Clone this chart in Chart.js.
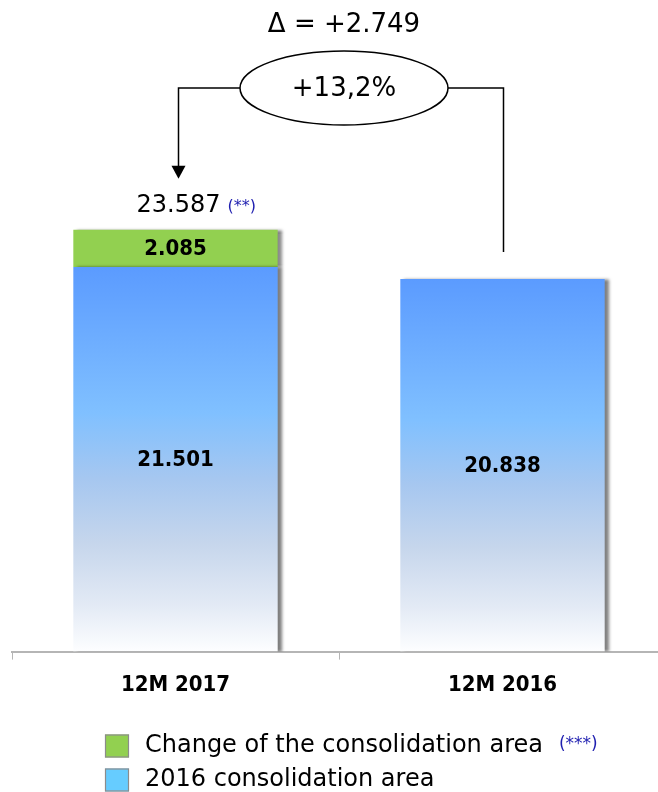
<!DOCTYPE html>
<html>
<head>
<meta charset="utf-8">
<script src="https://cdn.jsdelivr.net/npm/chart.js@4.4.1/dist/chart.umd.min.js"></script>
<style>
  html, body { margin: 0; padding: 0; background: #ffffff; overflow: hidden; }
  #wrap { width: 658px; height: 792px; overflow: hidden; position: relative; }
  canvas { display: block; }
</style>
</head>
<body>
<div id="wrap"><canvas id="c" width="670" height="792" style="width:670px;height:792px"></canvas></div>
<script>
// ---- data ----
const categories = ['12M 2017', '12M 2016'];
const changeArea = [2085, null];
const area2016 = [21501, 20838];
const changeLabels = ['2.085', ''];
const area2016Labels = ['21.501', '20.838'];
const totalValues = [23587, null];
const totalLabels = ['23.587', ''];
const totalNotes = ['(**)', ''];
const seriesNames = ['Change of the consolidation area', '2016 consolidation area'];
const seriesNotes = ['(***)', ''];
const deltaText = 'Δ = +2.749';
const pctText = '+13,2%';

// ---- styles ----
const GREEN = '#92d050';
const LEGEND_BLUE = '#66ccff';
const NOTE_BLUE = '#1f1fb0';
const REG = "'DejaVu Sans', Verdana, sans-serif";
const BOLD = "'DejaVu Sans Condensed', 'DejaVu Sans', Verdana, sans-serif";

function blueGradient(context) {
  const chart = context.chart;
  const area = chart.chartArea;
  if (!area || !chart.scales.y) return '#7fbfff';
  const v = context.raw;
  if (v == null) return '#7fbfff';
  const y = chart.scales.y;
  const top = y.getPixelForValue(v);
  const bottom = y.getPixelForValue(0);
  const g = chart.ctx.createLinearGradient(0, top, 0, bottom);
  g.addColorStop(0, '#5b9bff');
  g.addColorStop(0.38, '#80c0ff');
  g.addColorStop(0.55, '#a6c7f0');
  g.addColorStop(0.72, '#c6d6ec');
  g.addColorStop(0.88, '#e3eaf5');
  g.addColorStop(1, '#fdfeff');
  return g;
}

const shadowPlugin = {
  id: 'barShadow',
  beforeDatasetDraw(chart) {
    const ctx = chart.ctx;
    ctx.save();
    ctx.shadowColor = 'rgba(0,0,0,0.5)';
    ctx.shadowOffsetX = 4;
    ctx.shadowOffsetY = 0;
    ctx.shadowBlur = 3;
  },
  afterDatasetDraw(chart) {
    chart.ctx.restore();
  }
};

const annotationPlugin = {
  id: 'annotations',
  afterDatasetsDraw(chart) {
    const ctx = chart.ctx;
    const x = chart.scales.x, y = chart.scales.y;

    // bar value labels
    const labelSets = [area2016Labels, changeLabels];
    chart.data.datasets.forEach((ds, di) => {
      const meta = chart.getDatasetMeta(di);
      meta.data.forEach((bar, i) => {
        const txt = labelSets[di][i];
        if (!txt) return;
        ctx.save();
        ctx.font = 'bold 22px ' + BOLD;
        ctx.fillStyle = '#000';
        ctx.textAlign = 'center';
        ctx.textBaseline = 'middle';
        ctx.fillText(txt, bar.x, (bar.y + bar.base) / 2 + 1);
        ctx.restore();
      });
    });

    // total label above first bar
    const x0 = x.getPixelForValue(0);
    const x1 = x.getPixelForValue(1);
    const topTotal = y.getPixelForValue(totalValues[0]);
    const top2 = y.getPixelForValue(area2016[1]);
    ctx.save();
    ctx.font = '24px ' + REG;
    ctx.fillStyle = '#000';
    ctx.textAlign = 'center';
    ctx.textBaseline = 'middle';
    const lx = x0 + 3;
    const ly = topTotal - 24;
    ctx.fillText(totalLabels[0], lx, ly);
    const w = ctx.measureText(totalLabels[0]).width;
    ctx.font = '16px ' + REG;
    ctx.fillStyle = NOTE_BLUE;
    ctx.textAlign = 'left';
    ctx.fillText(totalNotes[0], lx + w / 2 + 7, ly + 1);
    ctx.restore();

    // connector lines and ellipse
    const ex = (x0 + x1) / 2 + 5;
    const ey = 88;
    const rx = 104, ry = 37;
    ctx.save();
    ctx.strokeStyle = '#000';
    ctx.lineWidth = 1.5;
    const leftX = x0 + 3;
    const rightX = x1 + 1;
    const tipY = topTotal - 51;
    ctx.beginPath();
    ctx.moveTo(ex - rx, ey);
    ctx.lineTo(leftX, ey);
    ctx.lineTo(leftX, tipY - 12);
    ctx.stroke();
    ctx.beginPath();
    ctx.moveTo(ex + rx, ey);
    ctx.lineTo(rightX, ey);
    ctx.lineTo(rightX, top2 - 27);
    ctx.stroke();
    // arrow head
    ctx.fillStyle = '#000';
    ctx.beginPath();
    ctx.moveTo(leftX - 7, tipY - 13);
    ctx.lineTo(leftX + 7, tipY - 13);
    ctx.lineTo(leftX, tipY);
    ctx.closePath();
    ctx.fill();
    // ellipse
    ctx.beginPath();
    ctx.ellipse(ex, ey, rx, ry, 0, 0, Math.PI * 2);
    ctx.fillStyle = '#fff';
    ctx.fill();
    ctx.stroke();
    // texts
    ctx.fillStyle = '#000';
    ctx.textAlign = 'center';
    ctx.textBaseline = 'middle';
    ctx.font = '26px ' + REG;
    ctx.fillText(pctText, ex, ey + 1);
    ctx.fillText(deltaText, ex, 25);
    ctx.restore();

    // legend
    const legendColors = [GREEN, LEGEND_BLUE];
    const rowsY = [746, 780];
    ctx.save();
    for (let i = 0; i < seriesNames.length; i++) {
      const cy = rowsY[i];
      ctx.fillStyle = legendColors[i];
      ctx.fillRect(105, cy - 11.5, 24, 23);
      ctx.strokeStyle = '#8c8c8c';
      ctx.lineWidth = 1.2;
      ctx.strokeRect(105.5, cy - 11, 23, 22);
      ctx.font = '24px ' + REG;
      ctx.fillStyle = '#000';
      ctx.textAlign = 'left';
      ctx.textBaseline = 'middle';
      ctx.fillText(seriesNames[i], 145, cy);
      if (seriesNotes[i]) {
        const tw = ctx.measureText(seriesNames[i]).width;
        ctx.font = '17px ' + REG;
        ctx.fillStyle = NOTE_BLUE;
        ctx.fillText(seriesNotes[i], 145 + tw + 16, cy - 1);
      }
    }
    ctx.restore();
  }
};

new Chart(document.getElementById('c'), {
  type: 'bar',
  data: {
    labels: categories,
    datasets: [
      {
        label: seriesNames[1],
        data: area2016,
        backgroundColor: blueGradient,
        borderWidth: 0,
        categoryPercentage: 1,
        barPercentage: 0.625,
        stack: 's'
      },
      {
        label: seriesNames[0],
        data: changeArea,
        backgroundColor: GREEN,
        borderWidth: 0,
        categoryPercentage: 1,
        barPercentage: 0.625,
        stack: 's'
      }
    ]
  },
  options: {
    responsive: false,
    devicePixelRatio: 1,
    animation: false,
    layout: { padding: { top: 115, left: 12, right: 4, bottom: 82 } },
    plugins: {
      legend: { display: false },
      tooltip: { enabled: false },
      title: { display: false }
    },
    scales: {
      x: {
        stacked: true,
        offset: true,
        grid: {
          offset: true,
          drawOnChartArea: false,
          drawTicks: true,
          tickLength: 8,
          color: '#b5b5b5',
          lineWidth: 1
        },
        border: { display: true, color: '#b5b5b5', width: 2 },
        ticks: {
          color: '#000',
          padding: 12,
          font: { family: BOLD, size: 22, weight: 'bold' }
        }
      },
      y: {
        stacked: true,
        display: false,
        min: 0,
        max: 30000
      }
    }
  },
  plugins: [shadowPlugin, annotationPlugin]
});
</script>
</body>
</html>
